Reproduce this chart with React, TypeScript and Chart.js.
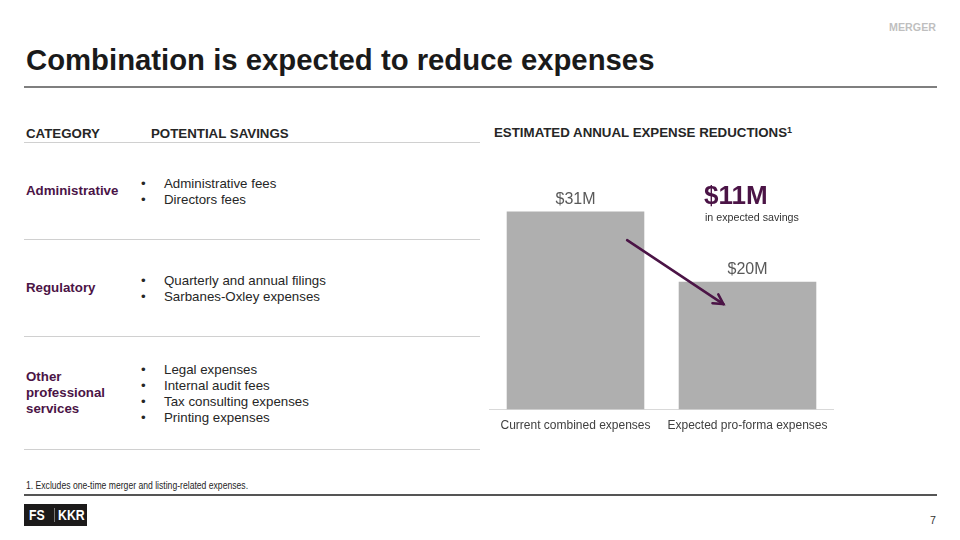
import React, { useEffect, useRef } from "react";
import { Chart, registerables } from "chart.js";

Chart.register(...registerables);

const categories = ["Current combined expenses", "Expected pro-forma expenses"];
const expenses = [31, 20];
const valueLabels = ["$31M", "$20M"];
const savingsLabel = "$11M";
const arrowFrom = { x: 0.3, y: 26.5 };
const arrowTo = { x: 0.86, y: 16.5 };

const rows = [
  { cat: ["Administrative"], items: ["Administrative fees", "Directors fees"] },
  { cat: ["Regulatory"], items: ["Quarterly and annual filings", "Sarbanes-Oxley expenses"] },
  {
    cat: ["Other", "professional", "services"],
    items: ["Legal expenses", "Internal audit fees", "Tax consulting expenses", "Printing expenses"],
  },
];

const PURPLE = "#4b1446";
const FONT = "'Liberation Sans', Arial, sans-serif";

function BarChart() {
  const ref = useRef<HTMLCanvasElement | null>(null);
  useEffect(() => {
    if (!ref.current) return;
    const labelPlugin = {
      id: "labels",
      afterDatasetsDraw(chart: any) {
        const ctx = chart.ctx;
        const meta = chart.getDatasetMeta(0);
        ctx.save();
        ctx.font = `16px ${FONT}`;
        ctx.fillStyle = "#595959";
        ctx.textAlign = "center";
        ctx.textBaseline = "middle";
        meta.data.forEach((bar: any, i: number) => {
          ctx.fillText(valueLabels[i], bar.x, bar.y - 12);
        });
        const xs = chart.scales.x;
        const ys = chart.scales.y;
        const x1 = xs.getPixelForValue(arrowFrom.x);
        const y1 = ys.getPixelForValue(arrowFrom.y);
        const x2 = xs.getPixelForValue(arrowTo.x);
        const y2 = ys.getPixelForValue(arrowTo.y);
        ctx.strokeStyle = PURPLE;
        ctx.lineWidth = 2.5;
        ctx.lineCap = "round";
        ctx.beginPath();
        ctx.moveTo(x1, y1);
        ctx.lineTo(x2, y2);
        ctx.stroke();
        const ang = Math.atan2(y2 - y1, x2 - x1);
        const hl = 11;
        ctx.beginPath();
        ctx.moveTo(x2 - hl * Math.cos(ang - 0.5), y2 - hl * Math.sin(ang - 0.5));
        ctx.lineTo(x2, y2);
        ctx.lineTo(x2 - hl * Math.cos(ang + 0.5), y2 - hl * Math.sin(ang + 0.5));
        ctx.stroke();
        ctx.restore();
      },
    };
    const chart = new Chart(ref.current, {
      type: "bar",
      data: {
        labels: categories,
        datasets: [
          {
            data: expenses,
            backgroundColor: "#afafaf",
            borderWidth: 0,
            barPercentage: 0.8,
            categoryPercentage: 1,
          },
        ],
      },
      options: {
        animation: false,
        responsive: false,
        maintainAspectRatio: false,
        layout: { padding: { left: 9.5, right: 16.5, top: 0, bottom: 8 } },
        plugins: { legend: { display: false }, tooltip: { enabled: false } },
        scales: {
          x: {
            grid: { display: false, drawTicks: false },
            border: { display: true, color: "#d9d9d9", width: 1 },
            ticks: { color: "#404040", font: { family: FONT, size: 12 }, padding: 9 },
          },
          y: { display: false, min: 0, max: 40.6 },
        },
      },
      plugins: [labelPlugin],
    });
    return () => chart.destroy();
  }, []);
  return (
    <canvas
      ref={ref}
      width={370}
      height={300}
      style={{ position: "absolute", left: 480, top: 150, width: 370, height: 300 }}
    />
  );
}

function Text(props: { x: number; cy: number; size: number; lh?: number; bold?: boolean; color?: string; family?: string; right?: boolean; sx?: number; children: any }) {
  const lh = props.lh ?? Math.round(props.size * 1.2);
  const style: any = {
    position: "absolute",
    top: props.cy - lh / 2,
    fontSize: props.size,
    lineHeight: `${lh}px`,
    fontWeight: props.bold ? "bold" : "normal",
    color: props.color ?? "#262626",
    fontFamily: props.family ?? FONT,
    whiteSpace: "nowrap",
  };
  if (props.sx) {
    style.transform = `scaleX(${props.sx})`;
    style.transformOrigin = "left center";
  }
  if (props.right) style.right = 960 - props.x;
  else style.left = props.x;
  return <div style={style}>{props.children}</div>;
}

function HLine(props: { x1: number; x2: number; y: number; h: number; color: string }) {
  return (
    <div
      style={{
        position: "absolute",
        left: props.x1,
        top: props.y - props.h / 2,
        width: props.x2 - props.x1,
        height: props.h,
        background: props.color,
      }}
    />
  );
}

export default function App() {
  const rowCenters = [192, 289, 394];
  const rowLines = [239, 336, 449];
  return (
    <div
      style={{
        position: "fixed",
        left: 0,
        top: 0,
        width: 960,
        height: 540,
        background: "#fff",
        fontFamily: FONT,
        overflow: "hidden",
      }}
    >
      <Text x={936} cy={27} size={10.7} bold color="#bfbfbf" right>
        MERGER
      </Text>
      <Text x={26} cy={60} size={29.3} lh={32} bold color="#1a1a1a">
        Combination is expected to reduce expenses
      </Text>
      <HLine x1={24} x2={937} y={87} h={1.5} color="#7f7f7f" />

      <Text x={26} cy={134} size={13.3} bold>
        CATEGORY
      </Text>
      <Text x={151} cy={134} size={13.3} bold>
        POTENTIAL SAVINGS
      </Text>
      <HLine x1={24} x2={480} y={142.5} h={1} color="#d0d0d0" />
      {rows.map((r, i) => {
        const n = r.cat.length;
        const m = r.items.length;
        return (
          <React.Fragment key={i}>
            {r.cat.map((c, j) => (
              <Text key={"c" + j} x={26} cy={rowCenters[i] - 1 - ((n - 1) * 16) / 2 + j * 16} size={13.3} bold color={PURPLE}>
                {c}
              </Text>
            ))}
            {r.items.map((t, j) => {
              const cy = rowCenters[i] - ((m - 1) * 16) / 2 + j * 16;
              return (
                <React.Fragment key={"i" + j}>
                  <Text x={141} cy={cy} size={13.3}>
                    •
                  </Text>
                  <Text x={164} cy={cy} size={13.3}>
                    {t}
                  </Text>
                </React.Fragment>
              );
            })}
            <HLine x1={24} x2={480} y={rowLines[i]} h={1} color="#d0d0d0" />
          </React.Fragment>
        );
      })}

      <Text x={494} cy={133} size={13.3} bold>
        ESTIMATED ANNUAL EXPENSE REDUCTIONS
        <sup style={{ fontSize: 9, verticalAlign: "top", lineHeight: "11px" }}>1</sup>
      </Text>

      <BarChart />

      <Text x={704} cy={195} size={26} lh={30} bold color={PURPLE}>
        {savingsLabel}
      </Text>
      <Text x={705} cy={217} size={10.7} color="#333">
        in expected savings
      </Text>

      <Text x={26} cy={486} size={10.2} color="#262626" sx={0.845}>
        1. Excludes one-time merger and listing-related expenses.
      </Text>
      <HLine x1={24} x2={937} y={495} h={1.5} color="#555" />

      <div
        style={{
          position: "absolute",
          left: 24,
          top: 504,
          width: 63,
          height: 22,
          background: "#1c1a1a",
          color: "#fff",
          fontWeight: "bold",
          fontSize: 15,
          lineHeight: "22px",
          fontFamily: FONT,
        }}
      >
        <span style={{ position: "absolute", left: 5, transform: "scaleX(0.82)", transformOrigin: "left center" }}>FS</span>
        <span style={{ position: "absolute", left: 30, top: 4, width: 1, height: 14, background: "#777" }} />
        <span style={{ position: "absolute", left: 34, transform: "scaleX(0.82)", transformOrigin: "left center" }}>KKR</span>
      </div>
      <Text x={936} cy={520} size={10.7} color="#333" right>
        7
      </Text>
    </div>
  );
}
